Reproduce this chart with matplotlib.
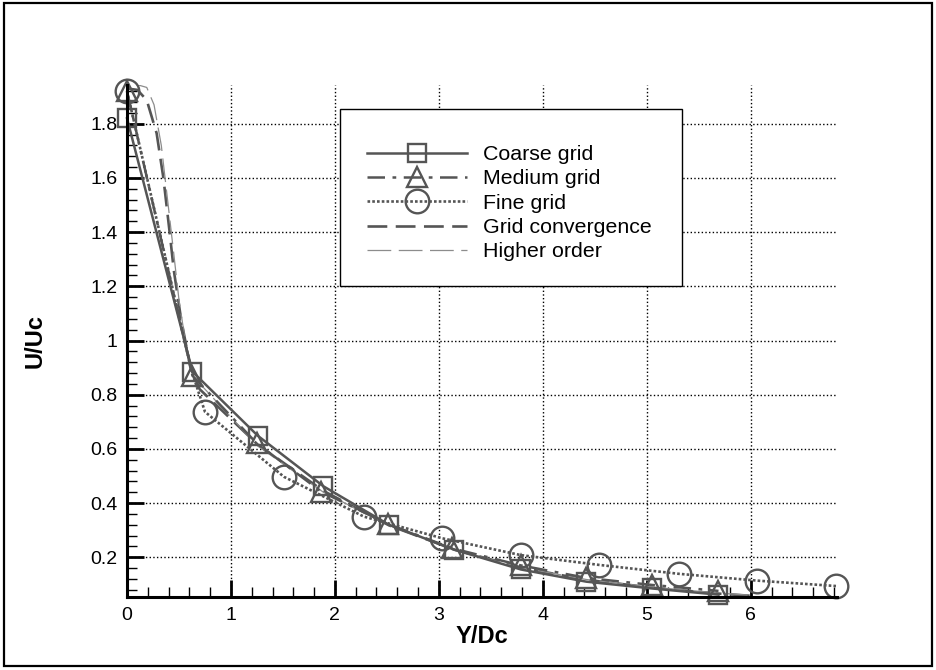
import matplotlib
matplotlib.use("Agg")
import matplotlib.pyplot as plt
import matplotlib.lines as mlines
from matplotlib.patches import Rectangle
from matplotlib.ticker import MultipleLocator, FormatStrFormatter

plt.rcParams['font.family'] = ['Liberation Sans', 'DejaVu Sans']

# 数据: 三套网格的速度衰减曲线
coarse_x = [0, 0.63, 1.26, 1.89, 2.52, 3.15, 3.79, 4.42, 5.05, 5.69]
coarse_y = [1.82, 0.885, 0.648, 0.462, 0.32, 0.228, 0.155, 0.11, 0.085, 0.062]

medium_x = [0, 0.63, 1.25, 1.87, 2.51, 3.13, 3.79, 4.42, 5.05, 5.69]
medium_y = [1.92, 0.87, 0.62, 0.442, 0.323, 0.233, 0.17, 0.124, 0.098, 0.076]

fine_x = [0, 0.62, 0.75, 1.51, 2.28, 3.035, 3.79, 4.54, 5.31, 6.06, 6.82]
fine_y = [1.92, 0.89, 0.737, 0.497, 0.35, 0.27, 0.208, 0.172, 0.139, 0.114, 0.094]
fine_marks = [0, 2, 3, 4, 5, 6, 7, 8, 9, 10]

conv_x = [0, 0.1, 0.19, 0.285, 0.35, 0.41, 0.45, 0.52, 0.61, 0.7, 1.26, 1.89,
          2.52, 3.15, 3.79, 4.42, 5.05, 5.69, 6.0]
conv_y = [1.93, 1.925, 1.887, 1.765, 1.60, 1.40, 1.26, 1.08, 0.90, 0.82, 0.615,
          0.445, 0.318, 0.228, 0.162, 0.117, 0.088, 0.066, 0.058]

high_x = [0, 0.19, 0.26, 0.33, 0.39, 0.45, 0.5, 0.56, 0.63, 1.26, 1.89, 2.52,
          3.15, 3.79, 4.42, 5.05, 5.69, 6.0]
high_y = [1.955, 1.934, 1.87, 1.72, 1.52, 1.32, 1.15, 1.0, 0.87, 0.61, 0.44,
          0.318, 0.228, 0.162, 0.118, 0.09, 0.068, 0.06]

labels = ['Coarse grid', 'Medium grid', 'Fine grid', 'Grid convergence', 'Higher order']

gray = '#555555'
light = '#8c8c8c'

fig = plt.figure(figsize=(9.37, 6.70), dpi=100)
ax = fig.add_axes([127/937, 1-597/670, 710/937, 512/670])

style_coarse = dict(color=gray, lw=1.8, ls='-', marker='s', ms=13, mfc='none', mec=gray, mew=1.7)
style_medium = dict(color=gray, lw=1.8, ls=(0, (7, 3, 1.5, 3)), marker='^', ms=14, mfc='none', mec=gray, mew=1.7)
style_fine = dict(color=gray, lw=1.9, ls=(0, (1, 0.8)), marker='o', ms=17, mfc='none', mec=gray, mew=1.7)
style_conv = dict(color=gray, lw=1.9, ls=(0, (7.5, 3.2)))
style_high = dict(color=light, lw=0.9, ls=(0, (19, 6)))

ax.plot(conv_x, conv_y, **style_conv)
ax.plot(high_x, high_y, **style_high)
ax.plot(coarse_x, coarse_y, clip_on=False, **style_coarse)
ax.plot(medium_x, medium_y, clip_on=False, **style_medium)
ax.plot(fine_x, fine_y, markevery=fine_marks, clip_on=False, **style_fine)

ax.set_xlim(0, 6.83)
ax.set_ylim(0.0535, 1.943)

ax.xaxis.set_major_locator(MultipleLocator(1))
ax.xaxis.set_minor_locator(MultipleLocator(0.2))
ax.yaxis.set_major_locator(MultipleLocator(0.2))
ax.yaxis.set_minor_locator(MultipleLocator(0.04))
ax.yaxis.set_major_formatter(FormatStrFormatter('%g'))
ax.xaxis.set_major_formatter(FormatStrFormatter('%g'))
ax.set_yticks([0.2, 0.4, 0.6, 0.8, 1.0, 1.2, 1.4, 1.6, 1.8])

ax.tick_params(which='major', direction='in', length=12, width=2, labelsize=14, pad=7, color='black')
ax.tick_params(which='minor', direction='in', length=7, width=1, color='black')
ax.grid(which='major', ls=':', lw=1, color='black')

for s in ['top', 'right']:
    ax.spines[s].set_visible(False)
for s in ['left', 'bottom']:
    ax.spines[s].set_linewidth(2.2)

ax.set_xlabel('Y/Dc', fontsize=17, fontweight='bold', labelpad=1)
ax.set_ylabel('U/Uc', fontsize=17, fontweight='bold', labelpad=31)

# 图例框
box = Rectangle((340/937, 1-286/670), 342/937, 177/670, transform=fig.transFigure,
                facecolor='white', edgecolor='black', lw=1, zorder=4, clip_on=False)
ax.add_patch(box)

handles = [
    mlines.Line2D([], [], **style_coarse),
    mlines.Line2D([], [], **style_medium),
    mlines.Line2D([], [], **style_fine),
    mlines.Line2D([], [], **style_conv),
    mlines.Line2D([], [], **style_high),
]
leg = ax.legend(handles=handles, labels=labels, loc='upper left',
                bbox_to_anchor=(367/937, 1-145/670), bbox_transform=fig.transFigure,
                frameon=False, fontsize=15.4, handlelength=4.67, handletextpad=0.75,
                labelspacing=0.25, borderpad=0, borderaxespad=0, numpoints=1)
leg.set_zorder(5)

# 外框
fig.patches.append(Rectangle((4/937, 4/670), 928/937, 663/670, transform=fig.transFigure,
                             fill=False, edgecolor='black', lw=1.6))

fig.savefig('out.png', dpi=100)
